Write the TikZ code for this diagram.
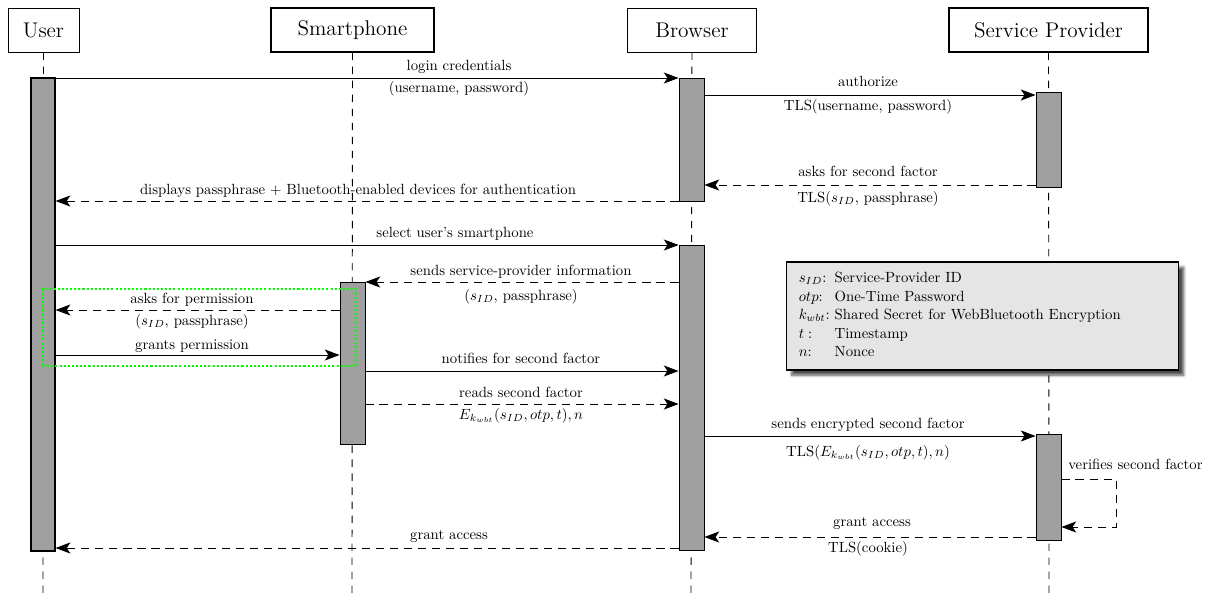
\documentclass[tikz,border=0pt]{standalone}
\usepackage{tikz}
\usetikzlibrary{arrows.meta,fit,shadows.blur}

\definecolor{barfill}{RGB}{160,160,160}
\definecolor{keyfill}{RGB}{229,229,229}
\definecolor{permgreen}{RGB}{0,255,0}

\tikzset{
  actor/.style={draw=black, semithick, font=\Large, minimum height=1.05cm},
  lifeline/.style={black, semithick, dash pattern=on 5pt off 4.5pt},
  actbar/.style={draw=black, semithick, fill=barfill},
  msg/.style={black, semithick, -{Stealth[length=10pt,width=7.5pt,inset=2.5pt]}},
  reply/.style={msg, dash pattern=on 5.5pt off 4pt},
  lbl/.style={anchor=base},
  permbox/.style={draw=permgreen, line width=1.4pt, dash pattern=on 1.4pt off 1.4pt},
  keybox/.style={draw=black, thick, fill=keyfill, blur shadow={shadow xshift=3.5pt, shadow yshift=-3.5pt, shadow blur steps=8, shadow opacity=70}}
}

\begin{document}
\begin{tikzpicture}[x=0.0238cm, y=0.0238cm]
\tikzstyle{every node}+=[inner sep=0pt]
\useasboundingbox (0,0) rectangle (1209,-594);
% actors
\node [actor, minimum width=1.69cm] (user) at (43.5,-30) {User};
\node [actor, thick, minimum width=3.88cm] (phone) at (352.5,-30) {Smartphone};
\node [actor, minimum width=3.09cm] (browser) at (692,-30) {Browser};
\node [actor, thick, minimum width=4.74cm] (sp) at (1048.5,-30) {Service Provider};
% lifelines
\coordinate (userend) at (43,-594);
\coordinate (phoneend) at (352,-594);
\coordinate (browserend) at (691,-594);
\coordinate (spend) at (1049,-594);
\draw [lifeline] (user) -- (userend);
\draw [lifeline] (phone) -- (phoneend);
\draw [lifeline] (browser) -- (browserend);
\draw [lifeline] (sp) -- (spend);
% activations
\node [actbar, thick, fit={(31,-78) (55,-551)}] (ubar) {};
\node [actbar, fit={(679,-78) (704,-201)}] (bbar1) {};
\node [actbar, fit={(679,-245) (704,-550)}] (bbar2) {};
\node [actbar, fit={(1036,-92) (1061,-187)}] (sbar1) {};
\node [actbar, fit={(1036,-434) (1061,-540)}] (sbar2) {};
\node [actbar, fit={(340,-282) (365,-444)}] (pbar) {};
% login
\draw [msg] (ubar.east |- 0,-78) -- (bbar1.west |- 0,-78);
\node [lbl] (m1a) at (459,-70) {login credentials};
\node [lbl] (m1b) at (459,-92) {(username, password)};
\draw [msg] (bbar1.east |- 0,-95) -- (sbar1.west |- 0,-95);
\node [lbl] (m2a) at (868,-86) {authorize};
\node [lbl] (m2b) at (868,-110) {TLS(username, password)};
\draw [reply] (sbar1.west |- 0,-185) -- (bbar1.east |- 0,-185);
\node [lbl] (m3a) at (868,-176) {asks for second factor};
\node [lbl] (m3b) at (868,-202) {TLS($s_{ID}$, passphrase)};
\draw [reply] (bbar1.west |- 0,-201) -- (ubar.east |- 0,-201);
\node [lbl] (m4a) at (358,-194) {displays passphrase $+$ Bluetooth-enabled devices for authentication};
% second factor
\draw [msg] (ubar.east |- 0,-245) -- (bbar2.west |- 0,-245);
\node [lbl] (m5a) at (455,-237) {select user's smartphone};
\draw [reply] (bbar2.west |- 0,-282) -- (pbar.east |- 0,-282);
\node [lbl] (m6a) at (521,-275) {sends service-provider information};
\node [lbl] (m6b) at (521,-300) {($s_{ID}$, passphrase)};
\draw [reply] (pbar.west |- 0,-310) -- (ubar.east |- 0,-310);
\node [lbl] (m7a) at (192,-303) {asks for permission};
\node [lbl] (m7b) at (192,-325) {($s_{ID}$, passphrase)};
\draw [msg] (ubar.east |- 0,-355) -- (pbar.west |- 0,-355);
\node [lbl] (m8a) at (192,-349) {grants permission};
\draw [msg] (pbar.east |- 0,-371) -- (bbar2.west |- 0,-371);
\node [lbl] (m9a) at (521,-363) {notifies for second factor};
\draw [reply] (pbar.east |- 0,-404) -- (bbar2.west |- 0,-404);
\node [lbl] (m10a) at (521,-397) {reads second factor};
\node [lbl] (m10b) at (521,-419) {$E_{k_{wbt}}(s_{ID}, otp, t), n$};
\draw [msg] (bbar2.east |- 0,-436) -- (sbar2.west |- 0,-436);
\node [lbl] (m11a) at (868,-428) {sends encrypted second factor};
\node [lbl] (m11b) at (868,-456) {TLS($E_{k_{wbt}}(s_{ID}, otp, t), n$)};
\draw [reply] (sbar2.east |- 0,-479) -- (1116,-479) |- (sbar2.east |- 0,-527);
\node [lbl, anchor=base west] (m12a) at (1068,-469) {verifies second factor};
\draw [reply] (sbar2.west |- 0,-537) -- (bbar2.east |- 0,-537);
\node [lbl] (m13a) at (872,-526) {grant access};
\node [lbl] (m13b) at (868,-552) {TLS(cookie)};
\draw [reply] (bbar2.west |- 0,-548) -- (ubar.east |- 0,-548);
\node [lbl] (m14a) at (449,-539) {grant access};
% permission box
\node [permbox, fit={(43,-289) (356,-366)}] (perm) {};
% key
\node [keybox, anchor=west, inner xsep=0.29cm, text width=8.75cm, minimum height=2.57cm, align=left] (key) at (786,-316)
  {\renewcommand{\arraystretch}{1.05}%
   \begin{tabular}{@{}l@{\ }l@{}}
   $s_{ID}$: & Service-Provider ID\\
   $otp$: & One-Time Password\\
   $k_{wbt}$: & Shared Secret for WebBluetooth Encryption\\
   $t:$ & Timestamp\\
   $n$: & Nonce
   \end{tabular}};
\end{tikzpicture}
\end{document}
